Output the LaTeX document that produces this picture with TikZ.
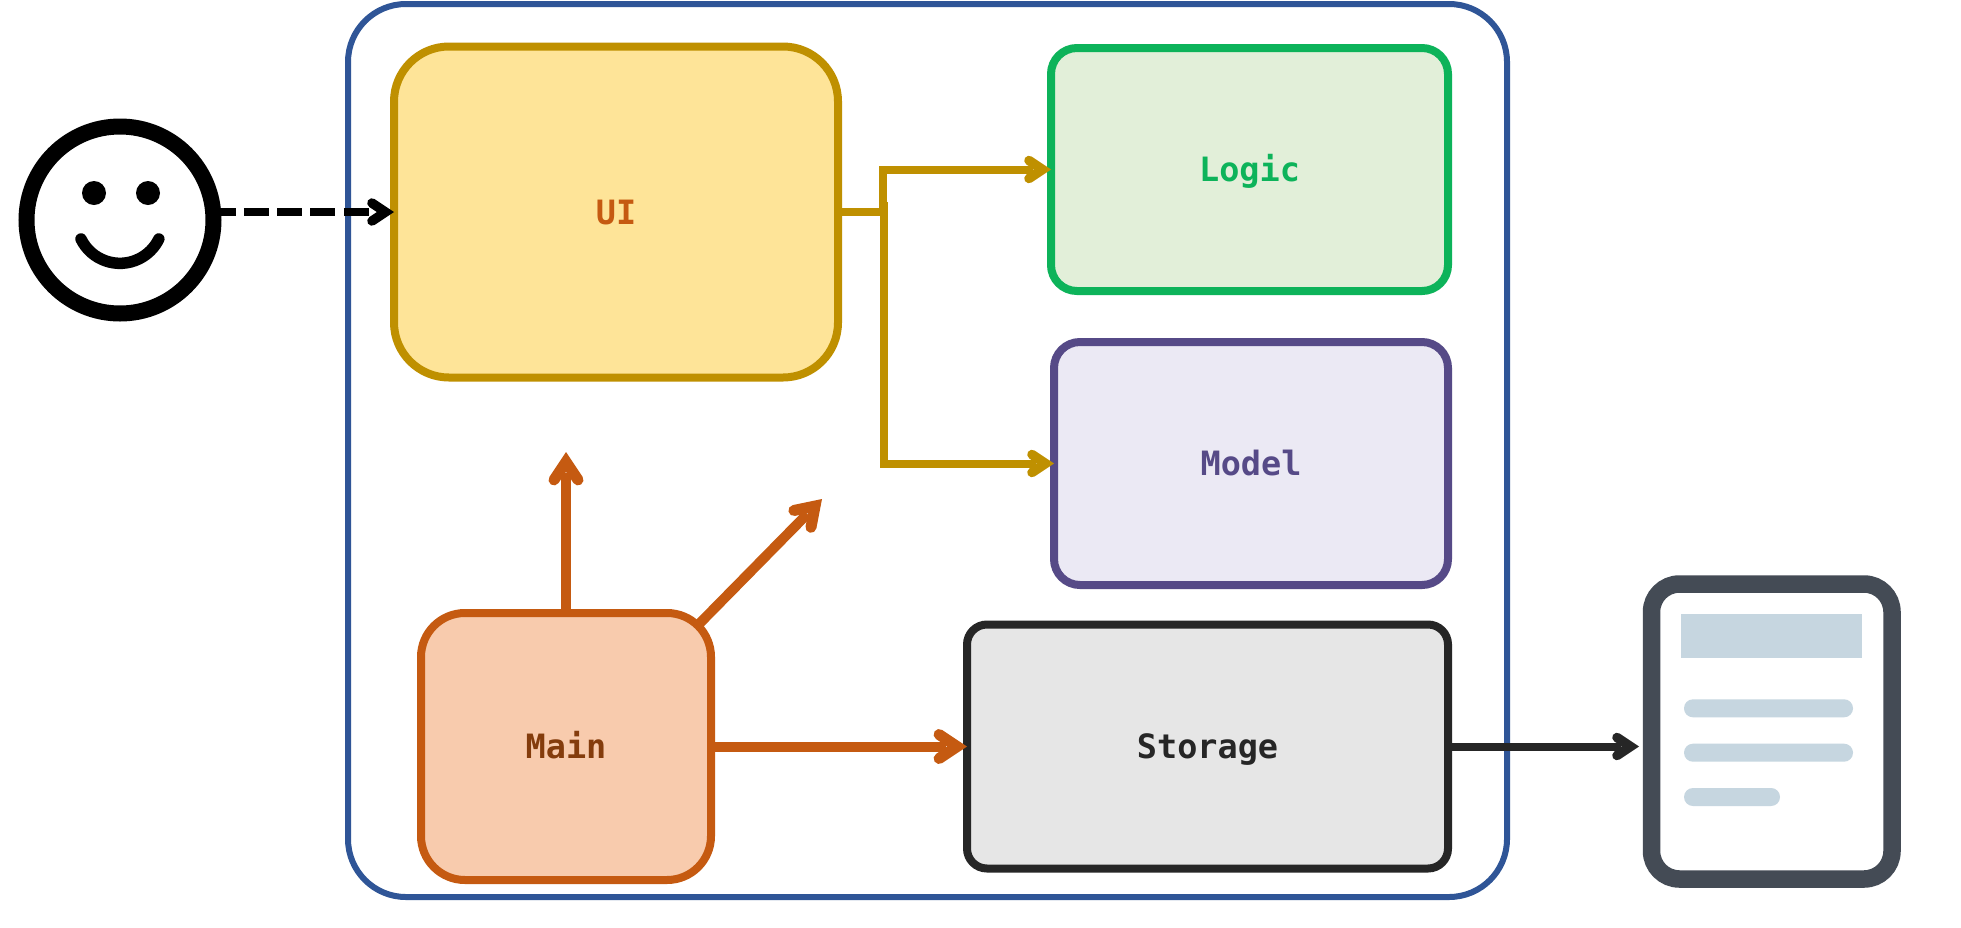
\documentclass[tikz,border=0pt]{standalone}
\usepackage{fontspec}
\setmonofont{DejaVu Sans Mono}[BoldFont={DejaVu Sans Mono Bold}]
\usetikzlibrary{arrows.meta}
\definecolor{outerblue}{HTML}{2F5597}
\definecolor{uistroke}{HTML}{BF9000}
\definecolor{uifill}{HTML}{FEE498}
\definecolor{uitext}{HTML}{C55A11}
\definecolor{logicstroke}{HTML}{0DB35A}
\definecolor{logicfill}{HTML}{E2EFD9}
\definecolor{modelstroke}{HTML}{564A87}
\definecolor{modelfill}{HTML}{EBE9F4}
\definecolor{mainstroke}{HTML}{C55A11}
\definecolor{mainfill}{HTML}{F8CBAD}
\definecolor{maintext}{HTML}{843C0C}
\definecolor{storstroke}{HTML}{262626}
\definecolor{storfill}{HTML}{E6E6E6}
\definecolor{docstroke}{HTML}{444B55}
\definecolor{docblue}{HTML}{C6D6E0}
\newdimen\hdoffset
\pgfdeclarearrow{
  name=OpenHead,
  parameters={\the\pgfarrowlength,\the\pgfarrowwidth,\the\pgfarrowlinewidth},
  defaults={length=14pt,width=18pt,line width=9pt},
  setup code={
    \pgfmathsetlength\hdoffset{0.5*\pgfarrowlinewidth*sqrt(\pgfarrowlength*\pgfarrowlength+0.25*\pgfarrowwidth*\pgfarrowwidth)/(0.5*\pgfarrowwidth)}
    \pgfarrowssettipend{\hdoffset}
    \pgfarrowssetlineend{-\pgfarrowlinewidth}
    \pgfarrowssetbackend{-\pgfarrowlength}
    \pgfarrowssetvisualbackend{-\pgfarrowlength}
    \pgfarrowssavethe\pgfarrowlength
    \pgfarrowssavethe\pgfarrowwidth
    \pgfarrowssavethe\pgfarrowlinewidth
  },
  drawing code={
    \pgfsetdash{}{0pt}
    \pgfsetlinewidth{\pgfarrowlinewidth}
    \pgfsetroundcap
    \pgfsetmiterjoin
    \pgfpathmoveto{\pgfqpoint{-\pgfarrowlength}{0.5\pgfarrowwidth}}
    \pgfpathlineto{\pgfqpoint{0pt}{0pt}}
    \pgfpathlineto{\pgfqpoint{-\pgfarrowlength}{-0.5\pgfarrowwidth}}
    \pgfusepathqstroke
  }
}
\tikzset{
  x=1pt,y=-1pt,
  box/.style={rectangle,inner sep=0pt,outer sep=0pt,line width=8pt,text height=24pt,text depth=0pt,
    font=\ttfamily\bfseries\fontsize{33.5}{36}\selectfont},
  barbtip/.style={-{OpenHead[length=13.5pt,width=18pt,line width=9.5pt]}},
  bigtip/.style={-{OpenHead[length=18pt,width=24pt,line width=11pt]}},
  arrowline/.style={line join=miter}
}
\begin{document}
\begin{tikzpicture}
\useasboundingbox (0,0) rectangle (1961,927);
\fill[white] (0,0) rectangle (1961,927);
\node[rectangle,draw=outerblue,line width=6pt,rounded corners=58pt,minimum width=1159pt,minimum height=893pt,inner sep=0pt,outer sep=0pt] (system) at (927.5,450.5) {};
\node[box,draw=uistroke,fill=uifill,text=uitext,rounded corners=55pt,minimum width=444pt,minimum height=331pt] (ui) at (616,212) {UI};
\node[box,draw=logicstroke,fill=logicfill,text=logicstroke,rounded corners=26pt,minimum width=397pt,minimum height=243pt] (logic) at (1249.5,169.5) {Logic};
\node[box,draw=modelstroke,fill=modelfill,text=modelstroke,rounded corners=26pt,minimum width=394pt,minimum height=243pt] (model) at (1251,463.5) {Model};
\node[box,draw=mainstroke,fill=mainfill,text=maintext,rounded corners=44pt,minimum width=290pt,minimum height=267pt] (main) at (566,746.5) {Main};
\node[box,draw=storstroke,fill=storfill,text=storstroke,rounded corners=20pt,minimum width=481pt,minimum height=244pt] (storage) at (1207.5,746.5) {Storage};
% user
\node[circle,draw=black,fill=white,line width=16pt,minimum size=187pt,inner sep=0pt,outer sep=0pt] (user) at (120,220) {};
\fill[black] (94,193) circle[radius=12];
\fill[black] (148,193) circle[radius=12];
\draw[line width=11.5pt,line cap=round] (81,239) arc[start angle=154,end angle=26,radius=43.3];
% document
\node[rectangle,draw=docstroke,fill=white,line width=17.5pt,rounded corners=28pt,minimum width=240.5pt,minimum height=295pt,inner sep=0pt,outer sep=0pt] (doc) at (1771.75,731.5) {};
\fill[docblue] (1681,614) rectangle (1862,658);
\fill[docblue,rounded corners=8.9pt] (1684,699.3) rectangle (1853,717.3);
\fill[docblue,rounded corners=8.9pt] (1684,743.7) rectangle (1853,761.7);
\fill[docblue,rounded corners=8.9pt] (1684,788) rectangle (1780,806);
% connectors
\coordinate (usergate) at (ui.west -| user.east);
\coordinate (docgate) at (1639,746.5);
\coordinate (juncup) at (883,212);
\coordinate (juncdown) at (884,202);
\coordinate (juncmid) at (884,212);
\coordinate (uitarget) at (566,452);
\coordinate (diagstart) at (700,623);
\coordinate (diagtarget) at (822,499);
\draw[black,line width=8.5pt,dash pattern=on 25pt off 8.33pt,dash phase=3pt,barbtip] (usergate) -- (ui.west);
\draw[uistroke,line width=8pt] (ui.east) -- (juncmid);
\draw[uistroke,line width=8pt,arrowline,barbtip] (juncup) |- (logic.west);
\draw[uistroke,line width=8pt,arrowline,barbtip] (juncdown) |- (model.west);
\draw[mainstroke,line width=10pt,bigtip] (main.north) -- (uitarget);
\draw[mainstroke,line width=10pt,bigtip] (diagstart) -- (diagtarget);
\draw[mainstroke,line width=10pt,bigtip] (main.east) -- (storage.west);
\draw[storstroke,line width=8pt,barbtip] (storage.east) -- (docgate);
\end{tikzpicture}
\end{document}
